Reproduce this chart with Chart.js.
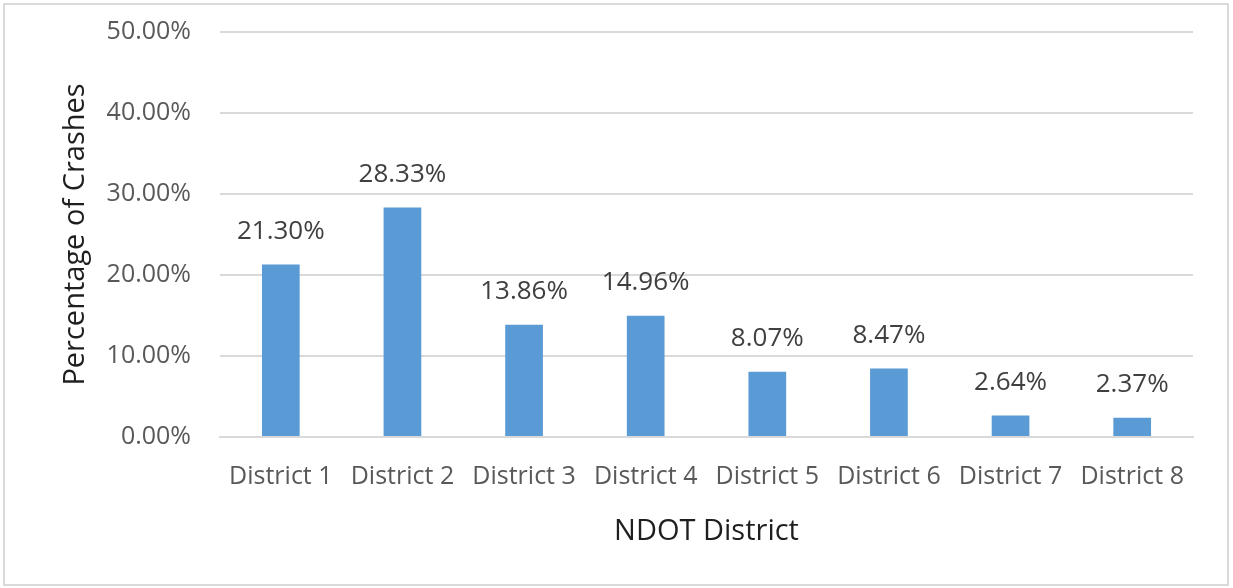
<!DOCTYPE html>
<html>
<head>
<meta charset="utf-8">
<script src="https://cdn.jsdelivr.net/npm/chart.js@4"></script>
<style>
  html, body { margin: 0; padding: 0; background: #fff; }
  #wrap { position: relative; width: 1233px; height: 588px; }
  #frame { position: absolute; left: 3px; top: 3px; width: 1222px; height: 579px; border: 2px solid #d9d9d9; }
  #chart { position: absolute; left: 0; top: 0; }
</style>
</head>
<body>
<div id="wrap">
  <div id="frame"></div>
  <canvas id="chart" width="1233" height="588"></canvas>
</div>
<script>
  // values
  const districts = ["District 1", "District 2", "District 3", "District 4", "District 5", "District 6", "District 7", "District 8"];
  const crashPct = [21.30, 28.33, 13.86, 14.96, 8.07, 8.47, 2.64, 2.37];
  const yMax = 50;
  const yStep = 10;

  const FONT = "'Open Sans', 'Noto Sans', sans-serif";

  // draws the % value above each bar
  const barLabels = {
    id: "barLabels",
    afterDatasetsDraw(chart) {
      const ctx = chart.ctx;
      const meta = chart.getDatasetMeta(0);
      ctx.save();
      ctx.font = "26px " + FONT;
      ctx.fillStyle = "#404040";
      ctx.textAlign = "center";
      ctx.textBaseline = "middle";
      meta.data.forEach((bar, i) => {
        ctx.fillText(crashPct[i].toFixed(2) + "%", bar.x, bar.y - 33);
      });
      ctx.restore();
    },
  };

  new Chart(document.getElementById("chart").getContext("2d"), {
    type: "bar",
    data: {
      labels: districts,
      datasets: [{
        data: crashPct,
        backgroundColor: "#5b9bd5",
        categoryPercentage: 1,
        barPercentage: 0.31,
      }],
    },
    options: {
      responsive: false,
      animation: false,
      layout: { padding: { left: 0, top: 32, right: 40, bottom: 0 } },
      plugins: { legend: { display: false }, tooltip: { enabled: false } },
      scales: {
        x: {
          afterFit: s => { s.height = 151; },
          grid: { display: false, drawTicks: false },
          border: { display: true, color: "#d9d9d9", width: 2 },
          ticks: { color: "#595959", font: { family: FONT, size: 25 }, padding: 25, maxRotation: 0, autoSkip: false },
          title: { display: true, text: "NDOT District", color: "#1f1f1f", font: { family: FONT, size: 29 }, padding: { top: 0, bottom: 39 } },
        },
        y: {
          min: 0,
          max: yMax,
          afterFit: s => { s.width = 220; s.paddingTop = 0; },
          grid: { color: "#d9d9d9", lineWidth: 2, drawTicks: false },
          border: { display: false },
          ticks: {
            stepSize: yStep,
            color: "#595959",
            font: { family: FONT, size: 25 },
            padding: 29,
            callback: v => v.toFixed(2) + "%",
          },
          title: { display: true, text: "Percentage of Crashes", color: "#1f1f1f", font: { family: FONT, size: 29 }, padding: { top: 58, bottom: 0 } },
        },
      },
    },
    plugins: [barLabels],
  });
</script>
</body>
</html>
